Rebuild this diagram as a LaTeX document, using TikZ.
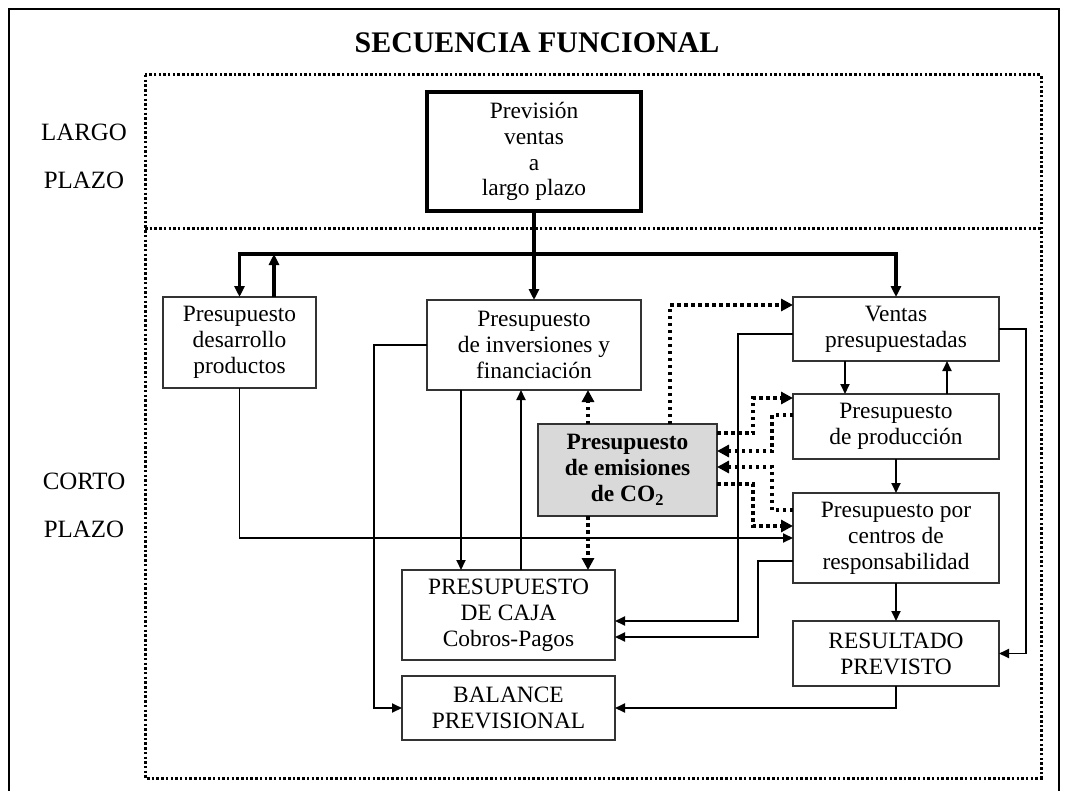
\documentclass[tikz,border=0pt]{standalone}
\usepackage{fontspec}
\setmainfont{Liberation Serif}
\usetikzlibrary{arrows.meta,calc}
\begin{document}
\begin{tikzpicture}[x=1bp,y=-1bp,
  box/.style={draw=black!80, line width=1.4bp, fill=white, align=center, inner sep=0pt, outer sep=0pt, font=\fontsize{23.5}{26}\selectfont},
  arr/.style={line width=1.9bp, line join=miter, -{Triangle[length=10bp,width=9bp]}},
  thk/.style={line width=3.2bp, line join=miter},
  thkarr/.style={thk, -{Triangle[length=11bp,width=10bp]}},
  dotarr/.style={line width=4.5bp, dash pattern=on 3.5bp off 3.5bp, -{Triangle[length=12bp,width=12bp]}},
  framedot/.style={line width=3bp, dash pattern=on 2.5bp off 2.2bp},
  lbl/.style={font=\fontsize{25}{26}\selectfont, inner sep=0pt, anchor=base}
]
\useasboundingbox (0,0) rectangle (1068,791);
\fill[white] (0,0) rectangle (1068,791);
% outer frame
\draw[line width=1.5bp] (9,9) rectangle (1059,805);
% title
\node[font=\bfseries\fontsize{30}{32}\selectfont, inner sep=0pt, anchor=base] (title) at (537,53) {SECUENCIA FUNCIONAL};
% dotted regions
\draw[framedot] (145,75) rectangle (1041,778);
\draw[framedot] (145,228) -- (1041,228);
% side labels
\node[lbl] (l1) at (84,140) {LARGO};
\node[lbl] (l2) at (84,188) {PLAZO};
\node[lbl] (l3) at (84,489) {CORTO};
\node[lbl] (l4) at (84,537) {PLAZO};
% boxes
\node[box, line width=4bp, draw=black, minimum width=214bp, minimum height=119bp] (prev) at (534,151.5) {Previsión\\ventas\\a\\largo plazo};
\node[box, minimum width=153bp, minimum height=91bp] (des) at (239.5,342.5) {Presupuesto\\desarrollo\\productos};
\node[box, minimum width=214bp, minimum height=90bp] (inv) at (534,345) {Presupuesto\\de inversiones y\\financiación};
\node[box, minimum width=206bp, minimum height=64bp] (ven) at (896,329) {Ventas\\presupuestadas};
\node[box, minimum width=206bp, minimum height=65bp] (pro) at (896,426.5) {Presupuesto\\de producción};
\node[box, minimum width=206bp, minimum height=90bp] (cen) at (896,538) {Presupuesto por\\centros de\\responsabilidad};
\node[box, minimum width=206bp, minimum height=65bp] (res) at (896,653.5) {RESULTADO\\PREVISTO};
\node[box, minimum width=213bp, minimum height=90bp] (caja) at (508.5,615) {PRESUPUESTO\\DE CAJA\\Cobros-Pagos};
\node[box, minimum width=213bp, minimum height=64bp] (bal) at (508.5,708) {BALANCE\\PREVISIONAL};
\node[box, fill=black!15, minimum width=179bp, minimum height=92bp, font=\bfseries\fontsize{23.5}{26}\selectfont] (co2) at (627.5,470) {Presupuesto\\de emisiones\\de CO\textsubscript{2}};
% helper coordinates
\coordinate (hl) at (534,254);
\coordinate (x738) at (738,0);
\coordinate (x758) at (758,0);
\coordinate (x1026) at (1026,0);
\coordinate (x753) at (753,0);
\coordinate (x772) at (772,0);
\coordinate (x375) at (374,0);
% thick connectors
\draw[thkarr] (prev.south) -- (inv.north);
\draw[thkarr] (hl) -| (des.north);
\draw[thkarr] (hl) -| (ven.north);
\coordinate (dA) at ([xshift=34.5bp]des.north);
\draw[thkarr] (dA) -- (dA |- hl);
% thin connectors
\draw[arr] (des.south) |- (cen.west);
\draw[arr] (inv.west) -- (inv.west -| x375) |- (bal.west);
\coordinate (i1) at ([xshift=-73bp]inv.south);
\draw[arr] (i1) -- (i1 |- caja.north);
\coordinate (c1) at ([xshift=12.5bp]caja.north);
\draw[arr] (c1) -- (c1 |- inv.south);
\coordinate (v2) at ([yshift=-5bp]ven.west);
\coordinate (k1) at ([yshift=-6bp]caja.east);
\draw[arr] (v2) -- (v2 -| x738) |- (k1);
\coordinate (e1) at ([yshift=-23bp]cen.west);
\coordinate (k2) at ([yshift=-22bp]caja.east);
\draw[arr] (e1) -- (e1 -| x758) |- (k2);
\draw[arr] (ven.east) -- (ven.east -| x1026) |- (res.east);
\coordinate (v3) at ([xshift=-51bp]ven.south);
\draw[arr] (v3) -- (v3 |- pro.north);
\coordinate (p1) at ([xshift=51bp]pro.north);
\draw[arr] (p1) -- (p1 |- ven.south);
\draw[arr] (pro.south) -- (cen.north);
\draw[arr] (cen.south) -- (res.north);
\draw[arr] (res.south) |- (bal.east);
% dotted connectors
\coordinate (o1) at ([xshift=-39.5bp]co2.north);
\draw[dotarr] (o1) -- (o1 |- inv.south);
\coordinate (o2) at ([xshift=-39.5bp]co2.south);
\draw[dotarr] (o2) -- (o2 |- caja.north);
\coordinate (o3) at ([xshift=42.5bp]co2.north);
\coordinate (vv) at ([yshift=-8bp]ven.north west);
\draw[dotarr] (o3) |- (vv);
\coordinate (oA) at ([yshift=37bp]co2.east);
\coordinate (pA) at ([yshift=28.5bp]pro.west);
\draw[dotarr] (oA) -- (oA -| x753) |- (pA);
\coordinate (pB) at ([yshift=11.5bp]pro.west);
\coordinate (oB) at ([yshift=19bp]co2.east);
\draw[dotarr] (pB) -- (pB -| x772) |- (oB);
\coordinate (cB) at ([yshift=28bp]cen.west);
\coordinate (oC) at ([yshift=3bp]co2.east);
\draw[dotarr] (cB) -- (cB -| x772) |- (oC);
\coordinate (oD) at ([yshift=-14bp]co2.east);
\coordinate (cD) at ([yshift=12bp]cen.west);
\draw[dotarr] (oD) -- (oD -| x753) |- (cD);
\end{tikzpicture}
\end{document}
